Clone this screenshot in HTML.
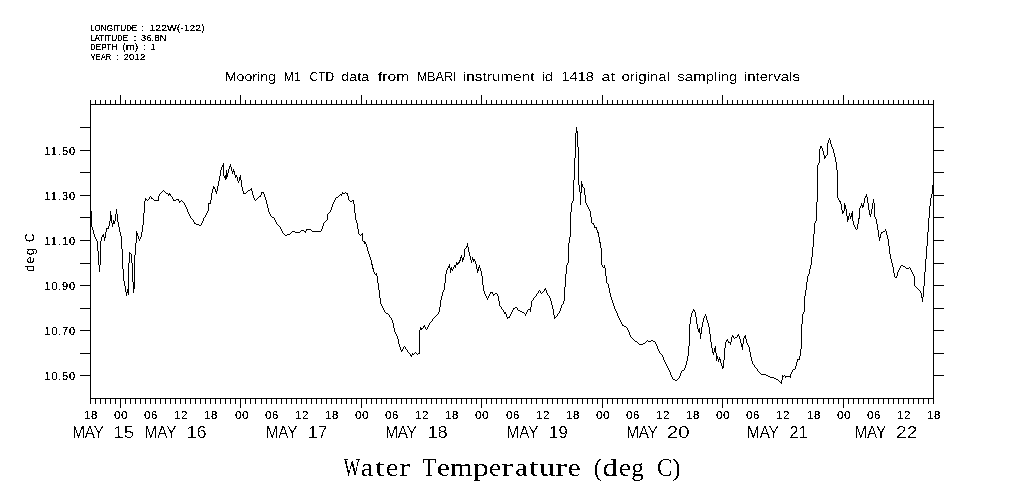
<!DOCTYPE html>
<html lang="en">
<head>
<meta charset="utf-8">
<title>Mooring M1 CTD data - Water Temperature (deg C)</title>
<style>
html,body{margin:0;padding:0;background:#fff;}
body{width:1009px;height:504px;overflow:hidden;}
svg{display:block;}
text{fill:#000;}
</style>
</head>
<body>
<svg width="1009" height="504" viewBox="0 0 1009 504">
<rect x="0" y="0" width="1009" height="504" fill="#ffffff"/>
<path d="M90 104h844v1h-844zM90 398h844v1h-844zM90 104h1v295h-1zM933 104h1v295h-1zM90 100h1v4h-1zM90 399h1v5h-1zM95 100h1v4h-1zM95 399h1v5h-1zM100 100h1v4h-1zM100 399h1v5h-1zM105 100h1v4h-1zM105 399h1v5h-1zM110 100h1v4h-1zM110 399h1v5h-1zM115 100h1v4h-1zM115 399h1v5h-1zM120 95h1v9h-1zM120 399h1v9h-1zM125 100h1v4h-1zM125 399h1v5h-1zM130 100h1v4h-1zM130 399h1v5h-1zM135 100h1v4h-1zM135 399h1v5h-1zM140 100h1v4h-1zM140 399h1v5h-1zM145 100h1v4h-1zM145 399h1v5h-1zM150 100h1v4h-1zM150 399h1v5h-1zM155 100h1v4h-1zM155 399h1v5h-1zM160 100h1v4h-1zM160 399h1v5h-1zM165 100h1v4h-1zM165 399h1v5h-1zM170 100h1v4h-1zM170 399h1v5h-1zM175 100h1v4h-1zM175 399h1v5h-1zM180 100h1v4h-1zM180 399h1v5h-1zM185 100h1v4h-1zM185 399h1v5h-1zM190 100h1v4h-1zM190 399h1v5h-1zM195 100h1v4h-1zM195 399h1v5h-1zM200 100h1v4h-1zM200 399h1v5h-1zM205 100h1v4h-1zM205 399h1v5h-1zM210 100h1v4h-1zM210 399h1v5h-1zM215 100h1v4h-1zM215 399h1v5h-1zM220 100h1v4h-1zM220 399h1v5h-1zM225 100h1v4h-1zM225 399h1v5h-1zM230 100h1v4h-1zM230 399h1v5h-1zM235 100h1v4h-1zM235 399h1v5h-1zM240 95h1v9h-1zM240 399h1v9h-1zM245 100h1v4h-1zM245 399h1v5h-1zM250 100h1v4h-1zM250 399h1v5h-1zM255 100h1v4h-1zM255 399h1v5h-1zM261 100h1v4h-1zM261 399h1v5h-1zM266 100h1v4h-1zM266 399h1v5h-1zM271 100h1v4h-1zM271 399h1v5h-1zM276 100h1v4h-1zM276 399h1v5h-1zM281 100h1v4h-1zM281 399h1v5h-1zM286 100h1v4h-1zM286 399h1v5h-1zM291 100h1v4h-1zM291 399h1v5h-1zM296 100h1v4h-1zM296 399h1v5h-1zM301 100h1v4h-1zM301 399h1v5h-1zM306 100h1v4h-1zM306 399h1v5h-1zM311 100h1v4h-1zM311 399h1v5h-1zM316 100h1v4h-1zM316 399h1v5h-1zM321 100h1v4h-1zM321 399h1v5h-1zM326 100h1v4h-1zM326 399h1v5h-1zM331 100h1v4h-1zM331 399h1v5h-1zM336 100h1v4h-1zM336 399h1v5h-1zM341 100h1v4h-1zM341 399h1v5h-1zM346 100h1v4h-1zM346 399h1v5h-1zM351 100h1v4h-1zM351 399h1v5h-1zM356 100h1v4h-1zM356 399h1v5h-1zM361 95h1v9h-1zM361 399h1v9h-1zM366 100h1v4h-1zM366 399h1v5h-1zM371 100h1v4h-1zM371 399h1v5h-1zM376 100h1v4h-1zM376 399h1v5h-1zM381 100h1v4h-1zM381 399h1v5h-1zM386 100h1v4h-1zM386 399h1v5h-1zM391 100h1v4h-1zM391 399h1v5h-1zM396 100h1v4h-1zM396 399h1v5h-1zM401 100h1v4h-1zM401 399h1v5h-1zM406 100h1v4h-1zM406 399h1v5h-1zM411 100h1v4h-1zM411 399h1v5h-1zM416 100h1v4h-1zM416 399h1v5h-1zM421 100h1v4h-1zM421 399h1v5h-1zM426 100h1v4h-1zM426 399h1v5h-1zM431 100h1v4h-1zM431 399h1v5h-1zM436 100h1v4h-1zM436 399h1v5h-1zM441 100h1v4h-1zM441 399h1v5h-1zM446 100h1v4h-1zM446 399h1v5h-1zM451 100h1v4h-1zM451 399h1v5h-1zM456 100h1v4h-1zM456 399h1v5h-1zM461 100h1v4h-1zM461 399h1v5h-1zM466 100h1v4h-1zM466 399h1v5h-1zM471 100h1v4h-1zM471 399h1v5h-1zM476 100h1v4h-1zM476 399h1v5h-1zM481 95h1v9h-1zM481 399h1v9h-1zM486 100h1v4h-1zM486 399h1v5h-1zM491 100h1v4h-1zM491 399h1v5h-1zM496 100h1v4h-1zM496 399h1v5h-1zM501 100h1v4h-1zM501 399h1v5h-1zM506 100h1v4h-1zM506 399h1v5h-1zM511 100h1v4h-1zM511 399h1v5h-1zM516 100h1v4h-1zM516 399h1v5h-1zM521 100h1v4h-1zM521 399h1v5h-1zM526 100h1v4h-1zM526 399h1v5h-1zM531 100h1v4h-1zM531 399h1v5h-1zM536 100h1v4h-1zM536 399h1v5h-1zM542 100h1v4h-1zM542 399h1v5h-1zM547 100h1v4h-1zM547 399h1v5h-1zM552 100h1v4h-1zM552 399h1v5h-1zM557 100h1v4h-1zM557 399h1v5h-1zM562 100h1v4h-1zM562 399h1v5h-1zM567 100h1v4h-1zM567 399h1v5h-1zM572 100h1v4h-1zM572 399h1v5h-1zM577 100h1v4h-1zM577 399h1v5h-1zM582 100h1v4h-1zM582 399h1v5h-1zM587 100h1v4h-1zM587 399h1v5h-1zM592 100h1v4h-1zM592 399h1v5h-1zM597 100h1v4h-1zM597 399h1v5h-1zM602 95h1v9h-1zM602 399h1v9h-1zM607 100h1v4h-1zM607 399h1v5h-1zM612 100h1v4h-1zM612 399h1v5h-1zM617 100h1v4h-1zM617 399h1v5h-1zM622 100h1v4h-1zM622 399h1v5h-1zM627 100h1v4h-1zM627 399h1v5h-1zM632 100h1v4h-1zM632 399h1v5h-1zM637 100h1v4h-1zM637 399h1v5h-1zM642 100h1v4h-1zM642 399h1v5h-1zM647 100h1v4h-1zM647 399h1v5h-1zM652 100h1v4h-1zM652 399h1v5h-1zM657 100h1v4h-1zM657 399h1v5h-1zM662 100h1v4h-1zM662 399h1v5h-1zM667 100h1v4h-1zM667 399h1v5h-1zM672 100h1v4h-1zM672 399h1v5h-1zM677 100h1v4h-1zM677 399h1v5h-1zM682 100h1v4h-1zM682 399h1v5h-1zM687 100h1v4h-1zM687 399h1v5h-1zM692 100h1v4h-1zM692 399h1v5h-1zM697 100h1v4h-1zM697 399h1v5h-1zM702 100h1v4h-1zM702 399h1v5h-1zM707 100h1v4h-1zM707 399h1v5h-1zM712 100h1v4h-1zM712 399h1v5h-1zM717 100h1v4h-1zM717 399h1v5h-1zM722 95h1v9h-1zM722 399h1v9h-1zM727 100h1v4h-1zM727 399h1v5h-1zM732 100h1v4h-1zM732 399h1v5h-1zM737 100h1v4h-1zM737 399h1v5h-1zM742 100h1v4h-1zM742 399h1v5h-1zM747 100h1v4h-1zM747 399h1v5h-1zM752 100h1v4h-1zM752 399h1v5h-1zM757 100h1v4h-1zM757 399h1v5h-1zM762 100h1v4h-1zM762 399h1v5h-1zM767 100h1v4h-1zM767 399h1v5h-1zM772 100h1v4h-1zM772 399h1v5h-1zM777 100h1v4h-1zM777 399h1v5h-1zM782 100h1v4h-1zM782 399h1v5h-1zM787 100h1v4h-1zM787 399h1v5h-1zM792 100h1v4h-1zM792 399h1v5h-1zM797 100h1v4h-1zM797 399h1v5h-1zM802 100h1v4h-1zM802 399h1v5h-1zM807 100h1v4h-1zM807 399h1v5h-1zM812 100h1v4h-1zM812 399h1v5h-1zM817 100h1v4h-1zM817 399h1v5h-1zM823 100h1v4h-1zM823 399h1v5h-1zM828 100h1v4h-1zM828 399h1v5h-1zM833 100h1v4h-1zM833 399h1v5h-1zM838 100h1v4h-1zM838 399h1v5h-1zM843 95h1v9h-1zM843 399h1v9h-1zM848 100h1v4h-1zM848 399h1v5h-1zM853 100h1v4h-1zM853 399h1v5h-1zM858 100h1v4h-1zM858 399h1v5h-1zM863 100h1v4h-1zM863 399h1v5h-1zM868 100h1v4h-1zM868 399h1v5h-1zM873 100h1v4h-1zM873 399h1v5h-1zM878 100h1v4h-1zM878 399h1v5h-1zM883 100h1v4h-1zM883 399h1v5h-1zM888 100h1v4h-1zM888 399h1v5h-1zM893 100h1v4h-1zM893 399h1v5h-1zM898 100h1v4h-1zM898 399h1v5h-1zM903 100h1v4h-1zM903 399h1v5h-1zM908 100h1v4h-1zM908 399h1v5h-1zM913 100h1v4h-1zM913 399h1v5h-1zM918 100h1v4h-1zM918 399h1v5h-1zM923 100h1v4h-1zM923 399h1v5h-1zM928 100h1v4h-1zM928 399h1v5h-1zM933 100h1v4h-1zM933 399h1v5h-1zM80 375h10v1h-10zM934 375h10v1h-10zM80 353h10v1h-10zM934 353h10v1h-10zM80 330h10v1h-10zM934 330h10v1h-10zM80 308h10v1h-10zM934 308h10v1h-10zM80 285h10v1h-10zM934 285h10v1h-10zM80 263h10v1h-10zM934 263h10v1h-10zM80 240h10v1h-10zM934 240h10v1h-10zM80 217h10v1h-10zM934 217h10v1h-10zM80 195h10v1h-10zM934 195h10v1h-10zM80 172h10v1h-10zM934 172h10v1h-10zM80 150h10v1h-10zM934 150h10v1h-10zM80 127h10v1h-10zM934 127h10v1h-10z" fill="#000" shape-rendering="crispEdges"/>
<path d="M91 211h1v16h-1zM92 227h1v3h-1zM93 230h1v4h-1zM94 234h1v3h-1zM95 237h1v2h-1zM96 239h1v2h-1zM97 241h1v10h-1zM98 251h1v14h-1zM99 265h1v7h-1zM100 241h1v24h-1zM101 237h1v4h-1zM102 235h1v2h-1zM103 234h1v3h-1zM104 237h1v4h-1zM105 232h1v6h-1zM106 228h1v4h-1zM107 228h1v1h-1zM108 226h1v3h-1zM109 221h1v5h-1zM110 211h1v10h-1zM111 215h1v8h-1zM112 223h1v4h-1zM113 220h1v4h-1zM114 221h1v3h-1zM115 214h1v7h-1zM116 209h1v5h-1zM117 214h1v8h-1zM118 222h1v5h-1zM119 227h1v5h-1zM120 232h1v4h-1zM121 236h1v13h-1zM122 249h1v20h-1zM123 269h1v12h-1zM124 281h1v5h-1zM125 286h1v6h-1zM126 292h1v4h-1zM127 289h1v4h-1zM128 263h1v32h-1zM129 252h1v11h-1zM130 253h1v1h-1zM131 254h1v9h-1zM132 263h1v19h-1zM133 282h1v11h-1zM134 255h1v34h-1zM135 243h1v12h-1zM136 231h1v12h-1zM137 233h1v3h-1zM138 236h1v3h-1zM139 239h1v2h-1zM140 237h1v2h-1zM141 232h1v5h-1zM142 225h1v7h-1zM143 213h1v12h-1zM144 201h1v12h-1zM145 198h1v3h-1zM146 199h1v1h-1zM147 200h1v1h-1zM148 199h1v1h-1zM149 197h1v2h-1zM150 196h1v1h-1zM151 197h1v2h-1zM152 198h1v1h-1zM153 199h1v1h-1zM154 200h1v1h-1zM155 200h1v1h-1zM156 200h1v1h-1zM157 200h1v1h-1zM158 196h1v5h-1zM159 194h1v2h-1zM160 193h1v1h-1zM161 192h1v1h-1zM162 191h1v1h-1zM163 190h1v1h-1zM164 191h1v1h-1zM165 192h1v1h-1zM166 193h1v1h-1zM167 193h1v1h-1zM168 194h1v2h-1zM169 193h1v2h-1zM170 194h1v2h-1zM171 196h1v1h-1zM172 197h1v2h-1zM173 199h1v2h-1zM174 200h1v1h-1zM175 200h1v1h-1zM176 199h1v1h-1zM177 199h1v1h-1zM178 199h1v2h-1zM179 201h1v2h-1zM180 201h1v1h-1zM181 200h1v1h-1zM182 201h1v1h-1zM183 202h1v1h-1zM184 203h1v2h-1zM185 205h1v2h-1zM186 207h1v2h-1zM187 209h1v3h-1zM188 212h1v2h-1zM189 214h1v2h-1zM190 216h1v2h-1zM191 218h1v1h-1zM192 219h1v1h-1zM193 220h1v2h-1zM194 222h1v2h-1zM195 223h1v1h-1zM196 224h1v1h-1zM197 224h1v1h-1zM198 224h1v1h-1zM199 225h1v1h-1zM200 225h1v1h-1zM201 223h1v2h-1zM202 221h1v2h-1zM203 218h1v3h-1zM204 217h1v1h-1zM205 215h1v2h-1zM206 213h1v2h-1zM207 211h1v2h-1zM208 203h1v8h-1zM209 203h1v1h-1zM210 200h1v4h-1zM211 193h1v7h-1zM212 189h1v4h-1zM213 186h1v3h-1zM214 187h1v2h-1zM215 189h1v3h-1zM216 191h1v3h-1zM217 186h1v5h-1zM218 181h1v5h-1zM219 176h1v5h-1zM220 170h1v6h-1zM221 167h1v3h-1zM222 165h1v2h-1zM223 163h1v13h-1zM224 176h1v2h-1zM225 175h1v5h-1zM226 170h1v9h-1zM227 173h1v4h-1zM228 169h1v4h-1zM229 166h1v3h-1zM230 164h1v3h-1zM231 167h1v4h-1zM232 171h1v3h-1zM233 169h1v3h-1zM234 171h1v4h-1zM235 175h1v3h-1zM236 175h1v2h-1zM237 177h1v4h-1zM238 181h1v2h-1zM239 177h1v4h-1zM240 175h1v5h-1zM241 180h1v7h-1zM242 187h1v4h-1zM243 191h1v3h-1zM244 193h1v1h-1zM245 193h1v1h-1zM246 192h1v1h-1zM247 191h1v1h-1zM248 190h1v1h-1zM249 190h1v1h-1zM250 189h1v1h-1zM251 188h1v3h-1zM252 191h1v4h-1zM253 195h1v3h-1zM254 198h1v2h-1zM255 200h1v1h-1zM256 199h1v1h-1zM257 198h1v1h-1zM258 197h1v1h-1zM259 196h1v1h-1zM260 195h1v2h-1zM261 192h1v3h-1zM262 192h1v1h-1zM263 192h1v2h-1zM264 194h1v3h-1zM265 197h1v3h-1zM266 200h1v4h-1zM267 204h1v4h-1zM268 208h1v4h-1zM269 212h1v2h-1zM270 214h1v2h-1zM271 216h1v1h-1zM272 217h1v1h-1zM273 217h1v1h-1zM274 218h1v2h-1zM275 220h1v2h-1zM276 222h1v2h-1zM277 224h1v1h-1zM278 225h1v1h-1zM279 226h1v1h-1zM280 227h1v2h-1zM281 229h1v2h-1zM282 231h1v2h-1zM283 233h1v1h-1zM284 234h1v1h-1zM285 235h1v1h-1zM286 235h1v1h-1zM287 234h1v1h-1zM288 234h1v1h-1zM289 234h1v1h-1zM290 233h1v1h-1zM291 232h1v1h-1zM292 231h1v1h-1zM293 231h1v1h-1zM294 231h1v1h-1zM295 232h1v1h-1zM296 232h1v1h-1zM297 232h1v1h-1zM298 232h1v1h-1zM299 232h1v1h-1zM300 231h1v1h-1zM301 230h1v1h-1zM302 230h1v1h-1zM303 230h1v1h-1zM304 231h1v1h-1zM305 231h1v2h-1zM306 229h1v2h-1zM307 229h1v1h-1zM308 229h1v1h-1zM309 229h1v1h-1zM310 229h1v1h-1zM311 230h1v1h-1zM312 231h1v1h-1zM313 231h1v1h-1zM314 231h1v1h-1zM315 231h1v1h-1zM316 231h1v1h-1zM317 231h1v1h-1zM318 231h1v1h-1zM319 231h1v1h-1zM320 231h1v1h-1zM321 229h1v2h-1zM322 226h1v3h-1zM323 223h1v3h-1zM324 222h1v1h-1zM325 221h1v1h-1zM326 220h1v1h-1zM327 214h1v6h-1zM328 213h1v1h-1zM329 212h1v1h-1zM330 210h1v2h-1zM331 207h1v3h-1zM332 204h1v3h-1zM333 202h1v2h-1zM334 200h1v2h-1zM335 198h1v2h-1zM336 197h1v1h-1zM337 197h1v1h-1zM338 196h1v1h-1zM339 195h1v1h-1zM340 194h1v1h-1zM341 194h1v2h-1zM342 192h1v2h-1zM343 193h1v1h-1zM344 193h1v1h-1zM345 192h1v1h-1zM346 193h1v1h-1zM347 193h1v3h-1zM348 196h1v4h-1zM349 200h1v1h-1zM350 201h1v1h-1zM351 201h1v1h-1zM352 200h1v1h-1zM353 200h1v4h-1zM354 204h1v9h-1zM355 213h1v7h-1zM356 220h1v3h-1zM357 223h1v6h-1zM358 229h1v5h-1zM359 234h1v1h-1zM360 235h1v1h-1zM361 234h1v1h-1zM362 233h1v8h-1zM363 241h1v1h-1zM364 241h1v3h-1zM365 242h1v2h-1zM366 244h1v3h-1zM367 247h1v4h-1zM368 251h1v3h-1zM369 254h1v3h-1zM370 257h1v3h-1zM371 260h1v5h-1zM372 264h1v5h-1zM373 268h1v4h-1zM374 272h1v2h-1zM375 274h1v1h-1zM376 273h1v3h-1zM377 276h1v7h-1zM378 283h1v7h-1zM379 290h1v8h-1zM380 298h1v6h-1zM381 304h1v2h-1zM382 306h1v2h-1zM383 308h1v2h-1zM384 310h1v2h-1zM385 312h1v1h-1zM386 313h1v1h-1zM387 313h1v1h-1zM388 314h1v1h-1zM389 315h1v2h-1zM390 317h1v1h-1zM391 318h1v2h-1zM392 320h1v3h-1zM393 323h1v5h-1zM394 328h1v4h-1zM395 332h1v2h-1zM396 334h1v2h-1zM397 336h1v3h-1zM398 339h1v5h-1zM399 344h1v3h-1zM400 347h1v3h-1zM401 350h1v2h-1zM402 349h1v2h-1zM403 347h1v2h-1zM404 346h1v1h-1zM405 347h1v2h-1zM406 349h1v1h-1zM407 350h1v2h-1zM408 352h1v1h-1zM409 353h1v1h-1zM410 354h1v2h-1zM411 355h1v2h-1zM412 353h1v2h-1zM413 354h1v1h-1zM414 353h1v1h-1zM415 352h1v1h-1zM416 353h1v1h-1zM417 354h1v1h-1zM418 353h1v1h-1zM419 330h1v24h-1zM420 327h1v3h-1zM421 328h1v2h-1zM422 328h1v1h-1zM423 326h1v2h-1zM424 325h1v2h-1zM425 327h1v2h-1zM426 329h1v1h-1zM427 327h1v2h-1zM428 325h1v2h-1zM429 323h1v2h-1zM430 322h1v1h-1zM431 321h1v1h-1zM432 319h1v2h-1zM433 318h1v1h-1zM434 317h1v1h-1zM435 316h1v1h-1zM436 315h1v1h-1zM437 314h1v1h-1zM438 312h1v2h-1zM439 307h1v5h-1zM440 300h1v7h-1zM441 296h1v4h-1zM442 292h1v4h-1zM443 290h1v2h-1zM444 283h1v7h-1zM445 274h1v9h-1zM446 270h1v4h-1zM447 268h1v2h-1zM448 266h1v2h-1zM449 264h1v4h-1zM450 268h1v5h-1zM451 267h1v3h-1zM452 269h1v2h-1zM453 267h1v2h-1zM454 265h1v2h-1zM455 265h1v3h-1zM456 262h1v3h-1zM457 263h1v2h-1zM458 262h1v2h-1zM459 260h1v3h-1zM460 257h1v4h-1zM461 255h1v3h-1zM462 258h1v4h-1zM463 257h1v3h-1zM464 249h1v8h-1zM465 248h1v1h-1zM466 246h1v2h-1zM467 243h1v4h-1zM468 247h1v5h-1zM469 252h1v4h-1zM470 256h1v4h-1zM471 260h1v3h-1zM472 257h1v3h-1zM473 259h1v3h-1zM474 259h1v2h-1zM475 261h1v3h-1zM476 264h1v5h-1zM477 269h1v4h-1zM478 267h1v4h-1zM479 265h1v3h-1zM480 268h1v3h-1zM481 271h1v5h-1zM482 276h1v9h-1zM483 285h1v6h-1zM484 291h1v3h-1zM485 294h1v2h-1zM486 296h1v2h-1zM487 298h1v2h-1zM488 296h1v2h-1zM489 294h1v2h-1zM490 292h1v2h-1zM491 292h1v1h-1zM492 292h1v2h-1zM493 294h1v2h-1zM494 294h1v1h-1zM495 293h1v1h-1zM496 293h1v1h-1zM497 294h1v2h-1zM498 296h1v5h-1zM499 301h1v5h-1zM500 306h1v1h-1zM501 307h1v2h-1zM502 309h1v1h-1zM503 310h1v2h-1zM504 312h1v2h-1zM505 312h1v2h-1zM506 314h1v3h-1zM507 317h1v2h-1zM508 317h1v1h-1zM509 316h1v2h-1zM510 314h1v2h-1zM511 312h1v2h-1zM512 310h1v2h-1zM513 308h1v2h-1zM514 308h1v1h-1zM515 307h1v1h-1zM516 307h1v1h-1zM517 308h1v2h-1zM518 310h1v1h-1zM519 310h1v1h-1zM520 311h1v1h-1zM521 311h1v1h-1zM522 312h1v1h-1zM523 312h1v1h-1zM524 313h1v1h-1zM525 314h1v2h-1zM526 312h1v2h-1zM527 310h1v2h-1zM528 309h1v1h-1zM529 309h1v1h-1zM530 307h1v5h-1zM531 301h1v6h-1zM532 300h1v1h-1zM533 298h1v2h-1zM534 297h1v1h-1zM535 296h1v1h-1zM536 294h1v2h-1zM537 293h1v1h-1zM538 291h1v2h-1zM539 290h1v1h-1zM540 291h1v2h-1zM541 293h1v1h-1zM542 292h1v1h-1zM543 291h1v1h-1zM544 289h1v2h-1zM545 288h1v2h-1zM546 290h1v3h-1zM547 293h1v2h-1zM548 295h1v1h-1zM549 296h1v2h-1zM550 298h1v3h-1zM551 301h1v4h-1zM552 305h1v4h-1zM553 309h1v6h-1zM554 315h1v4h-1zM555 317h1v1h-1zM556 316h1v1h-1zM557 314h1v2h-1zM558 313h1v1h-1zM559 311h1v2h-1zM560 308h1v3h-1zM561 305h1v3h-1zM562 304h1v1h-1zM563 301h1v3h-1zM564 287h1v14h-1zM565 274h1v13h-1zM566 265h1v9h-1zM567 263h1v2h-1zM568 243h1v20h-1zM569 237h1v6h-1zM570 212h1v25h-1zM571 203h1v9h-1zM572 201h1v2h-1zM573 180h1v21h-1zM574 158h1v22h-1zM575 133h1v25h-1zM576 127h1v6h-1zM577 131h1v16h-1zM578 147h1v38h-1zM579 185h1v7h-1zM580 192h1v13h-1zM581 181h1v12h-1zM582 184h1v3h-1zM583 187h1v1h-1zM584 188h1v7h-1zM585 195h1v8h-1zM586 203h1v2h-1zM587 205h1v2h-1zM588 207h1v2h-1zM589 209h1v2h-1zM590 211h1v6h-1zM591 217h1v6h-1zM592 223h1v1h-1zM593 223h1v2h-1zM594 225h1v3h-1zM595 227h1v1h-1zM596 227h1v3h-1zM597 230h1v3h-1zM598 232h1v5h-1zM599 237h1v6h-1zM600 242h1v6h-1zM601 248h1v17h-1zM602 265h1v2h-1zM603 267h1v1h-1zM604 265h1v3h-1zM605 268h1v8h-1zM606 276h1v7h-1zM607 283h1v1h-1zM608 284h1v4h-1zM609 288h1v5h-1zM610 293h1v4h-1zM611 297h1v3h-1zM612 300h1v3h-1zM613 303h1v3h-1zM614 306h1v3h-1zM615 309h1v2h-1zM616 311h1v2h-1zM617 313h1v3h-1zM618 316h1v2h-1zM619 318h1v2h-1zM620 320h1v2h-1zM621 322h1v2h-1zM622 324h1v2h-1zM623 325h1v1h-1zM624 326h1v1h-1zM625 326h1v1h-1zM626 327h1v1h-1zM627 328h1v2h-1zM628 330h1v2h-1zM629 332h1v3h-1zM630 335h1v2h-1zM631 337h1v1h-1zM632 338h1v1h-1zM633 339h1v1h-1zM634 340h1v1h-1zM635 341h1v1h-1zM636 341h1v1h-1zM637 342h1v1h-1zM638 343h1v1h-1zM639 344h1v1h-1zM640 344h1v1h-1zM641 344h1v1h-1zM642 344h1v1h-1zM643 343h1v1h-1zM644 343h1v1h-1zM645 342h1v1h-1zM646 341h1v1h-1zM647 340h1v1h-1zM648 341h1v1h-1zM649 341h1v1h-1zM650 341h1v1h-1zM651 340h1v1h-1zM652 340h1v1h-1zM653 341h1v1h-1zM654 341h1v1h-1zM655 342h1v2h-1zM656 344h1v2h-1zM657 346h1v3h-1zM658 349h1v2h-1zM659 351h1v2h-1zM660 353h1v1h-1zM661 354h1v1h-1zM662 355h1v2h-1zM663 357h1v3h-1zM664 360h1v2h-1zM665 362h1v2h-1zM666 364h1v2h-1zM667 366h1v2h-1zM668 368h1v2h-1zM669 370h1v2h-1zM670 372h1v3h-1zM671 375h1v2h-1zM672 377h1v2h-1zM673 379h1v1h-1zM674 379h1v1h-1zM675 380h1v1h-1zM676 380h1v1h-1zM677 379h1v1h-1zM678 378h1v1h-1zM679 376h1v2h-1zM680 373h1v3h-1zM681 371h1v2h-1zM682 370h1v1h-1zM683 370h1v1h-1zM684 368h1v2h-1zM685 365h1v3h-1zM686 361h1v4h-1zM687 356h1v5h-1zM688 346h1v10h-1zM689 324h1v22h-1zM690 317h1v7h-1zM691 313h1v4h-1zM692 311h1v2h-1zM693 309h1v2h-1zM694 310h1v2h-1zM695 312h1v5h-1zM696 317h1v7h-1zM697 324h1v5h-1zM698 329h1v3h-1zM699 328h1v5h-1zM700 333h1v6h-1zM701 327h1v7h-1zM702 322h1v5h-1zM703 318h1v4h-1zM704 316h1v2h-1zM705 314h1v2h-1zM706 316h1v4h-1zM707 320h1v3h-1zM708 323h1v4h-1zM709 327h1v7h-1zM710 334h1v8h-1zM711 342h1v6h-1zM712 348h1v5h-1zM713 352h1v3h-1zM714 348h1v4h-1zM715 346h1v7h-1zM716 353h1v8h-1zM717 356h1v3h-1zM718 359h1v3h-1zM719 357h1v3h-1zM720 359h1v4h-1zM721 363h1v3h-1zM722 366h1v3h-1zM723 360h1v8h-1zM724 348h1v12h-1zM725 342h1v6h-1zM726 340h1v2h-1zM727 339h1v2h-1zM728 341h1v2h-1zM729 342h1v1h-1zM730 342h1v3h-1zM731 337h1v5h-1zM732 335h1v2h-1zM733 336h1v2h-1zM734 338h1v1h-1zM735 337h1v1h-1zM736 337h1v1h-1zM737 335h1v2h-1zM738 334h1v2h-1zM739 336h1v3h-1zM740 339h1v4h-1zM741 343h1v4h-1zM742 344h1v6h-1zM743 338h1v6h-1zM744 336h1v2h-1zM745 335h1v4h-1zM746 339h1v4h-1zM747 343h1v2h-1zM748 345h1v2h-1zM749 347h1v5h-1zM750 352h1v5h-1zM751 357h1v4h-1zM752 361h1v3h-1zM753 364h1v1h-1zM754 365h1v2h-1zM755 367h1v1h-1zM756 368h1v1h-1zM757 369h1v2h-1zM758 371h1v1h-1zM759 372h1v1h-1zM760 373h1v1h-1zM761 374h1v1h-1zM762 374h1v1h-1zM763 374h1v1h-1zM764 374h1v1h-1zM765 374h1v1h-1zM766 375h1v1h-1zM767 375h1v1h-1zM768 376h1v1h-1zM769 376h1v1h-1zM770 377h1v1h-1zM771 377h1v1h-1zM772 377h1v1h-1zM773 377h1v1h-1zM774 378h1v1h-1zM775 378h1v1h-1zM776 379h1v1h-1zM777 379h1v1h-1zM778 380h1v1h-1zM779 381h1v1h-1zM780 382h1v1h-1zM781 380h1v4h-1zM782 375h1v5h-1zM783 376h1v1h-1zM784 375h1v1h-1zM785 376h1v2h-1zM786 376h1v1h-1zM787 376h1v1h-1zM788 376h1v1h-1zM789 376h1v1h-1zM790 374h1v4h-1zM791 372h1v2h-1zM792 370h1v2h-1zM793 369h1v1h-1zM794 369h1v1h-1zM795 366h1v3h-1zM796 362h1v4h-1zM797 359h1v3h-1zM798 359h1v1h-1zM799 356h1v4h-1zM800 349h1v7h-1zM801 324h1v25h-1zM802 314h1v10h-1zM803 312h1v2h-1zM804 296h1v16h-1zM805 290h1v6h-1zM806 282h1v8h-1zM807 276h1v6h-1zM808 274h1v2h-1zM809 269h1v5h-1zM810 265h1v4h-1zM811 257h1v8h-1zM812 247h1v10h-1zM813 234h1v13h-1zM814 223h1v11h-1zM815 221h1v2h-1zM816 202h1v19h-1zM817 165h1v37h-1zM818 163h1v2h-1zM819 149h1v14h-1zM820 146h1v3h-1zM821 146h1v2h-1zM822 148h1v3h-1zM823 151h1v4h-1zM824 155h1v4h-1zM825 156h1v2h-1zM826 155h1v1h-1zM827 143h1v12h-1zM828 140h1v3h-1zM829 138h1v2h-1zM830 140h1v4h-1zM831 144h1v3h-1zM832 147h1v2h-1zM833 149h1v4h-1zM834 153h1v4h-1zM835 157h1v5h-1zM836 162h1v8h-1zM837 170h1v28h-1zM838 198h1v2h-1zM839 200h1v2h-1zM840 201h1v3h-1zM841 204h1v6h-1zM842 210h1v4h-1zM843 211h1v2h-1zM844 203h1v8h-1zM845 205h1v4h-1zM846 209h1v7h-1zM847 216h1v6h-1zM848 216h1v4h-1zM849 213h1v3h-1zM850 216h1v3h-1zM851 213h1v4h-1zM852 211h1v10h-1zM853 221h1v4h-1zM854 225h1v2h-1zM855 227h1v2h-1zM856 229h1v1h-1zM857 224h1v5h-1zM858 218h1v6h-1zM859 208h1v11h-1zM860 206h1v2h-1zM861 203h1v3h-1zM862 205h1v3h-1zM863 203h1v4h-1zM864 198h1v5h-1zM865 196h1v2h-1zM866 194h1v3h-1zM867 197h1v6h-1zM868 203h1v7h-1zM869 210h1v5h-1zM870 214h1v3h-1zM871 209h1v5h-1zM872 203h1v6h-1zM873 199h1v4h-1zM874 203h1v14h-1zM875 217h1v2h-1zM876 219h1v5h-1zM877 224h1v6h-1zM878 230h1v7h-1zM879 237h1v4h-1zM880 234h1v4h-1zM881 232h1v2h-1zM882 232h1v1h-1zM883 231h1v1h-1zM884 231h1v1h-1zM885 229h1v2h-1zM886 231h1v4h-1zM887 235h1v4h-1zM888 239h1v7h-1zM889 246h1v8h-1zM890 254h1v5h-1zM891 259h1v4h-1zM892 263h1v4h-1zM893 267h1v6h-1zM894 273h1v4h-1zM895 277h1v1h-1zM896 276h1v2h-1zM897 272h1v4h-1zM898 270h1v2h-1zM899 268h1v2h-1zM900 266h1v2h-1zM901 265h1v1h-1zM902 265h1v1h-1zM903 266h1v1h-1zM904 266h1v1h-1zM905 267h1v1h-1zM906 268h1v1h-1zM907 268h1v1h-1zM908 268h1v1h-1zM909 267h1v1h-1zM910 268h1v2h-1zM911 270h1v2h-1zM912 272h1v2h-1zM913 274h1v2h-1zM914 276h1v10h-1zM915 286h1v1h-1zM916 287h1v1h-1zM917 288h1v1h-1zM918 289h1v1h-1zM919 290h1v1h-1zM920 291h1v2h-1zM921 293h1v5h-1zM922 297h1v5h-1zM923 286h1v11h-1zM924 272h1v14h-1zM925 259h1v13h-1zM926 246h1v13h-1zM927 232h1v14h-1zM928 218h1v14h-1zM929 206h1v12h-1zM930 198h1v8h-1zM931 194h1v4h-1zM932 185h1v9h-1zM933 184h1v1h-1z" fill="#000" shape-rendering="crispEdges"/>
<defs>
<filter id="fa" x="0" y="0" width="1009" height="504" filterUnits="userSpaceOnUse" color-interpolation-filters="sRGB"><feComponentTransfer><feFuncA type="discrete" tableValues="0 0 0 0 0 0 0 1 1 1 1 1 1 1 1 1 1 1 1 1"/></feComponentTransfer></filter>
<filter id="fc" x="0" y="0" width="1009" height="504" filterUnits="userSpaceOnUse" color-interpolation-filters="sRGB"><feComponentTransfer><feFuncA type="discrete" tableValues="0 0 0 0 0 0 0 0 0 0 1 1 1 1 1 1 1 1 1 1"/></feComponentTransfer></filter>
<filter id="fb" x="0" y="0" width="1009" height="504" filterUnits="userSpaceOnUse" color-interpolation-filters="sRGB"><feComponentTransfer><feFuncA type="discrete" tableValues="0 0 0 0 0 0 0 0 1 1 1 1 1 1 1 1 1 1 1 1"/></feComponentTransfer></filter>
<filter id="fd" x="0" y="0" width="1009" height="504" filterUnits="userSpaceOnUse" color-interpolation-filters="sRGB"><feComponentTransfer><feFuncA type="discrete" tableValues="0 0 0 0 0 0 0 0 0 0 0 0 1 1 1 1 1 1 1 1"/></feComponentTransfer></filter>
<filter id="fe" x="0" y="0" width="1009" height="504" filterUnits="userSpaceOnUse" color-interpolation-filters="sRGB"><feComponentTransfer><feFuncA type="discrete" tableValues="0 0 0 0 0 0 0 0 0 0 1 1 1 1 1 1 1 1 1 1"/></feComponentTransfer></filter>
</defs>
<g filter="url(#fa)">
<text y="30.9" font-size="9" font-family="'Liberation Sans', sans-serif"><tspan x="90.05" textLength="47.20" lengthAdjust="spacingAndGlyphs">LONGITUDE</tspan> <tspan x="141.41" textLength="2.50" lengthAdjust="spacingAndGlyphs">:</tspan> <tspan x="149.52" textLength="55.16" lengthAdjust="spacingAndGlyphs">122W(-122)</tspan></text>
<text y="40.7" font-size="9" font-family="'Liberation Sans', sans-serif"><tspan x="90.06" textLength="38.10" lengthAdjust="spacingAndGlyphs">LATITUDE</tspan> <tspan x="133.66" textLength="2.50" lengthAdjust="spacingAndGlyphs">:</tspan> <tspan x="140.81" textLength="25.90" lengthAdjust="spacingAndGlyphs">36.8N</tspan></text>
<text y="50.2" font-size="9" font-family="'Liberation Sans', sans-serif"><tspan x="90.06" textLength="27.18" lengthAdjust="spacingAndGlyphs">DEPTH</tspan> <tspan x="122.15" textLength="16.35" lengthAdjust="spacingAndGlyphs">(m)</tspan> <tspan x="143.46" textLength="2.50" lengthAdjust="spacingAndGlyphs">:</tspan> <tspan x="150.54" textLength="5.01" lengthAdjust="spacingAndGlyphs">1</tspan></text>
<text y="59.6" font-size="9" font-family="'Liberation Sans', sans-serif"><tspan x="90.51" textLength="20.86" lengthAdjust="spacingAndGlyphs">YEAR</tspan> <tspan x="116.31" textLength="2.50" lengthAdjust="spacingAndGlyphs">:</tspan> <tspan x="123.61" textLength="21.78" lengthAdjust="spacingAndGlyphs">2012</tspan></text>
</g>
<g filter="url(#fc)">
<text y="81" font-size="13" font-family="'Liberation Sans', sans-serif"><tspan x="224.77" textLength="51.22" lengthAdjust="spacingAndGlyphs">Mooring</tspan> <tspan x="283.39" textLength="17.53" lengthAdjust="spacingAndGlyphs">M1</tspan> <tspan x="309.60" textLength="24.60" lengthAdjust="spacingAndGlyphs">CTD</tspan> <tspan x="341.33" textLength="27.79" lengthAdjust="spacingAndGlyphs">data</tspan> <tspan x="377.96" textLength="31.35" lengthAdjust="spacingAndGlyphs">from</tspan> <tspan x="416.90" textLength="39.44" lengthAdjust="spacingAndGlyphs">MBARI</tspan> <tspan x="462.90" textLength="71.73" lengthAdjust="spacingAndGlyphs">instrument</tspan> <tspan x="541.41" textLength="11.85" lengthAdjust="spacingAndGlyphs">id</tspan> <tspan x="561.51" textLength="32.44" lengthAdjust="spacingAndGlyphs">1418</tspan> <tspan x="601.58" textLength="13.37" lengthAdjust="spacingAndGlyphs">at</tspan> <tspan x="621.50" textLength="48.36" lengthAdjust="spacingAndGlyphs">original</tspan> <tspan x="677.35" textLength="60.08" lengthAdjust="spacingAndGlyphs">sampling</tspan> <tspan x="743.82" textLength="56.16" lengthAdjust="spacingAndGlyphs">intervals</tspan></text>
<text transform="translate(34,272) rotate(-90)" font-size="13" font-family="'Liberation Sans', sans-serif" textLength="39.2" lengthAdjust="spacing">deg C</text>
</g>
<g filter="url(#fb)">
<text x="44.6" y="379.6" font-size="11" font-family="'Liberation Sans', sans-serif" textLength="30.5" lengthAdjust="spacing">10.50</text>
<text x="44.6" y="334.6" font-size="11" font-family="'Liberation Sans', sans-serif" textLength="30.5" lengthAdjust="spacing">10.70</text>
<text x="44.6" y="289.6" font-size="11" font-family="'Liberation Sans', sans-serif" textLength="30.5" lengthAdjust="spacing">10.90</text>
<text x="44.6" y="244.6" font-size="11" font-family="'Liberation Sans', sans-serif" textLength="30.5" lengthAdjust="spacing">11.10</text>
<text x="44.6" y="199.6" font-size="11" font-family="'Liberation Sans', sans-serif" textLength="30.5" lengthAdjust="spacing">11.30</text>
<text x="44.6" y="154.6" font-size="11" font-family="'Liberation Sans', sans-serif" textLength="30.5" lengthAdjust="spacing">11.50</text>
<text x="84" y="418.8" font-size="11.5" font-family="'Liberation Sans', sans-serif" textLength="13.4" lengthAdjust="spacing">18</text>
<text x="114" y="418.8" font-size="11.5" font-family="'Liberation Sans', sans-serif" textLength="13.4" lengthAdjust="spacing">00</text>
<text x="144" y="418.8" font-size="11.5" font-family="'Liberation Sans', sans-serif" textLength="13.4" lengthAdjust="spacing">06</text>
<text x="174" y="418.8" font-size="11.5" font-family="'Liberation Sans', sans-serif" textLength="13.4" lengthAdjust="spacing">12</text>
<text x="204" y="418.8" font-size="11.5" font-family="'Liberation Sans', sans-serif" textLength="13.4" lengthAdjust="spacing">18</text>
<text x="235" y="418.8" font-size="11.5" font-family="'Liberation Sans', sans-serif" textLength="13.4" lengthAdjust="spacing">00</text>
<text x="265" y="418.8" font-size="11.5" font-family="'Liberation Sans', sans-serif" textLength="13.4" lengthAdjust="spacing">06</text>
<text x="295" y="418.8" font-size="11.5" font-family="'Liberation Sans', sans-serif" textLength="13.4" lengthAdjust="spacing">12</text>
<text x="325" y="418.8" font-size="11.5" font-family="'Liberation Sans', sans-serif" textLength="13.4" lengthAdjust="spacing">18</text>
<text x="355" y="418.8" font-size="11.5" font-family="'Liberation Sans', sans-serif" textLength="13.4" lengthAdjust="spacing">00</text>
<text x="385" y="418.8" font-size="11.5" font-family="'Liberation Sans', sans-serif" textLength="13.4" lengthAdjust="spacing">06</text>
<text x="415" y="418.8" font-size="11.5" font-family="'Liberation Sans', sans-serif" textLength="13.4" lengthAdjust="spacing">12</text>
<text x="445" y="418.8" font-size="11.5" font-family="'Liberation Sans', sans-serif" textLength="13.4" lengthAdjust="spacing">18</text>
<text x="475" y="418.8" font-size="11.5" font-family="'Liberation Sans', sans-serif" textLength="13.4" lengthAdjust="spacing">00</text>
<text x="506" y="418.8" font-size="11.5" font-family="'Liberation Sans', sans-serif" textLength="13.4" lengthAdjust="spacing">06</text>
<text x="536" y="418.8" font-size="11.5" font-family="'Liberation Sans', sans-serif" textLength="13.4" lengthAdjust="spacing">12</text>
<text x="566" y="418.8" font-size="11.5" font-family="'Liberation Sans', sans-serif" textLength="13.4" lengthAdjust="spacing">18</text>
<text x="596" y="418.8" font-size="11.5" font-family="'Liberation Sans', sans-serif" textLength="13.4" lengthAdjust="spacing">00</text>
<text x="626" y="418.8" font-size="11.5" font-family="'Liberation Sans', sans-serif" textLength="13.4" lengthAdjust="spacing">06</text>
<text x="656" y="418.8" font-size="11.5" font-family="'Liberation Sans', sans-serif" textLength="13.4" lengthAdjust="spacing">12</text>
<text x="686" y="418.8" font-size="11.5" font-family="'Liberation Sans', sans-serif" textLength="13.4" lengthAdjust="spacing">18</text>
<text x="716" y="418.8" font-size="11.5" font-family="'Liberation Sans', sans-serif" textLength="13.4" lengthAdjust="spacing">00</text>
<text x="746" y="418.8" font-size="11.5" font-family="'Liberation Sans', sans-serif" textLength="13.4" lengthAdjust="spacing">06</text>
<text x="776" y="418.8" font-size="11.5" font-family="'Liberation Sans', sans-serif" textLength="13.4" lengthAdjust="spacing">12</text>
<text x="807" y="418.8" font-size="11.5" font-family="'Liberation Sans', sans-serif" textLength="13.4" lengthAdjust="spacing">18</text>
<text x="837" y="418.8" font-size="11.5" font-family="'Liberation Sans', sans-serif" textLength="13.4" lengthAdjust="spacing">00</text>
<text x="867" y="418.8" font-size="11.5" font-family="'Liberation Sans', sans-serif" textLength="13.4" lengthAdjust="spacing">06</text>
<text x="897" y="418.8" font-size="11.5" font-family="'Liberation Sans', sans-serif" textLength="13.4" lengthAdjust="spacing">12</text>
<text x="927" y="418.8" font-size="11.5" font-family="'Liberation Sans', sans-serif" textLength="13.4" lengthAdjust="spacing">18</text>
</g>
<g filter="url(#fd)">
<text y="438.2" font-size="15.7" font-family="'Liberation Sans', sans-serif"><tspan x="72.19" textLength="31.55" lengthAdjust="spacingAndGlyphs">MAY</tspan> <tspan x="113.30" textLength="20.79" lengthAdjust="spacingAndGlyphs">15</tspan></text>
<text y="438.2" font-size="15.7" font-family="'Liberation Sans', sans-serif"><tspan x="144.49" textLength="31.55" lengthAdjust="spacingAndGlyphs">MAY</tspan> <tspan x="186.44" textLength="20.23" lengthAdjust="spacingAndGlyphs">16</tspan></text>
<text y="438.2" font-size="15.7" font-family="'Liberation Sans', sans-serif"><tspan x="265.69" textLength="31.55" lengthAdjust="spacingAndGlyphs">MAY</tspan> <tspan x="308.10" textLength="19.31" lengthAdjust="spacingAndGlyphs">17</tspan></text>
<text y="438.2" font-size="15.7" font-family="'Liberation Sans', sans-serif"><tspan x="385.19" textLength="31.55" lengthAdjust="spacingAndGlyphs">MAY</tspan> <tspan x="427.65" textLength="20.01" lengthAdjust="spacingAndGlyphs">18</tspan></text>
<text y="438.2" font-size="15.7" font-family="'Liberation Sans', sans-serif"><tspan x="506.59" textLength="31.55" lengthAdjust="spacingAndGlyphs">MAY</tspan> <tspan x="549.14" textLength="18.65" lengthAdjust="spacingAndGlyphs">19</tspan></text>
<text y="438.2" font-size="15.7" font-family="'Liberation Sans', sans-serif"><tspan x="626.19" textLength="31.55" lengthAdjust="spacingAndGlyphs">MAY</tspan> <tspan x="666.78" textLength="22.79" lengthAdjust="spacingAndGlyphs">20</tspan></text>
<text y="438.2" font-size="15.7" font-family="'Liberation Sans', sans-serif"><tspan x="747.09" textLength="31.55" lengthAdjust="spacingAndGlyphs">MAY</tspan> <tspan x="789.58" textLength="18.19" lengthAdjust="spacingAndGlyphs">21</tspan></text>
<text y="438.2" font-size="15.7" font-family="'Liberation Sans', sans-serif"><tspan x="854.39" textLength="31.55" lengthAdjust="spacingAndGlyphs">MAY</tspan> <tspan x="896.04" textLength="21.25" lengthAdjust="spacingAndGlyphs">22</tspan></text>
</g>
<g filter="url(#fe)">
<text y="475.7" font-size="25.4" font-family="'Liberation Serif', serif"><tspan x="343.50" textLength="16.57" lengthAdjust="spacingAndGlyphs">W</tspan><tspan x="360.47" textLength="13.03" lengthAdjust="spacingAndGlyphs">a</tspan><tspan x="375.05" textLength="9.83" lengthAdjust="spacingAndGlyphs">t</tspan><tspan x="385.75" textLength="12.72" lengthAdjust="spacingAndGlyphs">e</tspan><tspan x="399.34" textLength="10.92" lengthAdjust="spacingAndGlyphs">r</tspan> <tspan x="422.67" textLength="13.28" lengthAdjust="spacingAndGlyphs">T</tspan><tspan x="436.95" textLength="12.78" lengthAdjust="spacingAndGlyphs">e</tspan><tspan x="450.02" textLength="22.39" lengthAdjust="spacingAndGlyphs">m</tspan><tspan x="473.03" textLength="15.73" lengthAdjust="spacingAndGlyphs">p</tspan><tspan x="488.92" textLength="12.00" lengthAdjust="spacingAndGlyphs">e</tspan><tspan x="501.54" textLength="11.85" lengthAdjust="spacingAndGlyphs">r</tspan><tspan x="514.98" textLength="12.92" lengthAdjust="spacingAndGlyphs">a</tspan><tspan x="529.07" textLength="9.30" lengthAdjust="spacingAndGlyphs">t</tspan><tspan x="538.90" textLength="16.60" lengthAdjust="spacingAndGlyphs">u</tspan><tspan x="555.19" textLength="11.79" lengthAdjust="spacingAndGlyphs">r</tspan><tspan x="567.73" textLength="12.96" lengthAdjust="spacingAndGlyphs">e</tspan> <tspan x="593.88" textLength="7.57" lengthAdjust="spacingAndGlyphs">(</tspan><tspan x="602.54" textLength="15.16" lengthAdjust="spacingAndGlyphs">d</tspan><tspan x="618.88" textLength="12.48" lengthAdjust="spacingAndGlyphs">e</tspan><tspan x="631.37" textLength="12.53" lengthAdjust="spacingAndGlyphs">g</tspan> <tspan x="656.99" textLength="15.21" lengthAdjust="spacingAndGlyphs">C</tspan><tspan x="672.35" textLength="8.33" lengthAdjust="spacingAndGlyphs">)</tspan></text>
</g>
</svg>
</body>
</html>
